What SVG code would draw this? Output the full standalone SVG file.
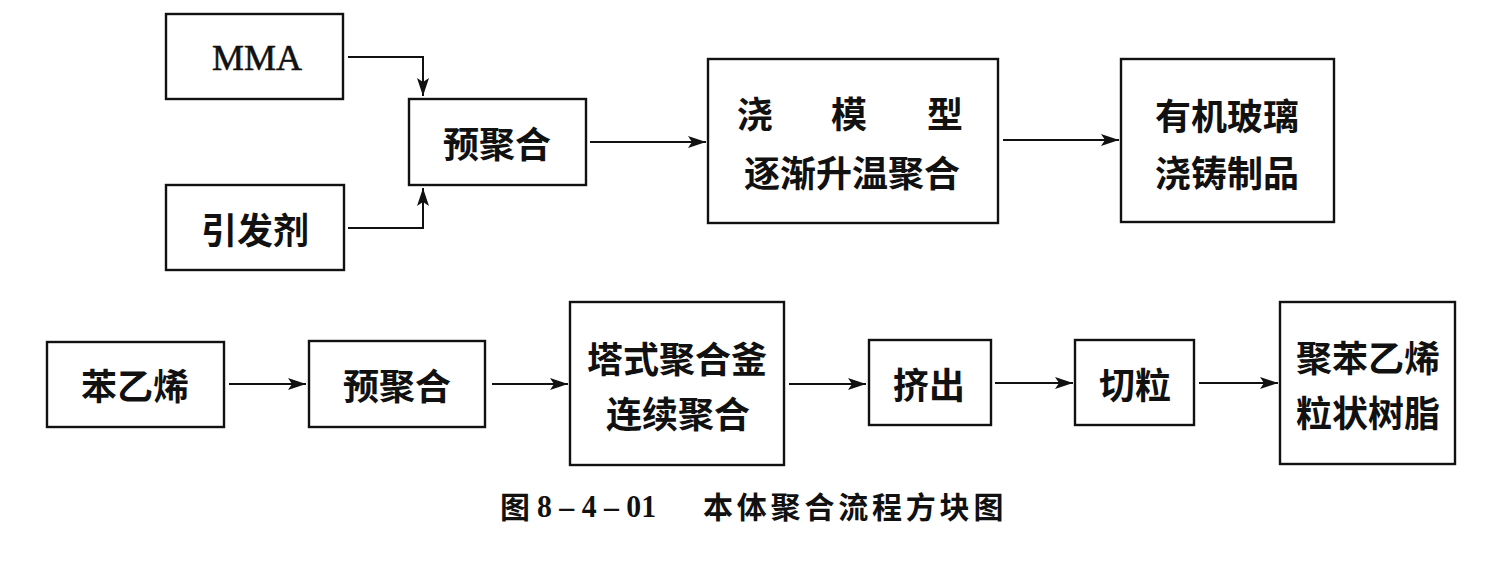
<svg xmlns="http://www.w3.org/2000/svg" width="1488" height="574" viewBox="0 0 1488 574">
<style>
.box{fill:#fff;stroke:#111;stroke-width:2.4}
.t{font-family:"Noto Sans CJK SC","Noto Sans",sans-serif;font-size:36px;font-weight:700;fill:#111;text-anchor:middle;dominant-baseline:central}
.lat{font-family:"Liberation Serif",serif;font-size:36px;fill:#111;text-anchor:middle;stroke:#111;stroke-width:0.6}
.c{fill:none;stroke:#111;stroke-width:2;marker-end:url(#ah)}
.cap{font-family:"Noto Sans CJK SC",sans-serif;font-size:30px;font-weight:700;fill:#111;dominant-baseline:central}
.capn{font-family:"Liberation Serif",serif;font-size:32px;font-weight:bold;fill:#111}
</style>
<defs>
<marker id="ah" markerUnits="userSpaceOnUse" markerWidth="19" markerHeight="13" viewBox="0 0 19 13" refX="18" refY="6.5" orient="auto">
<path d="M0,0.5 L18,6.5 L0,12.5 L4,6.5 z" fill="#111"/>
</marker>
</defs>
<rect width="1488" height="574" fill="#fff"/>

<g id="connectors">
<path class="c" d="M348,57 H423 V96"/>
<path class="c" d="M348,228 H423 V188"/>
<path class="c" d="M590,142 H706"/>
<path class="c" d="M1003,140 H1119"/>
<path class="c" d="M229,384 H306"/>
<path class="c" d="M492,384 H568"/>
<path class="c" d="M789,384 H866"/>
<path class="c" d="M995,383 H1073"/>
<path class="c" d="M1199,383 H1278"/>
</g>

<g id="mma">
<rect class="box" x="166" y="14" width="177" height="85"/>
<text class="lat" x="257" y="70">MMA</text>
</g>
<g id="initiator">
<rect class="box" x="166" y="185" width="178" height="85"/>
<text class="t" x="255" y="228">引发剂</text>
</g>
<g id="prepoly1">
<rect class="box" x="409" y="99" width="177" height="86"/>
<text class="t" x="497" y="142">预聚合</text>
</g>
<g id="casting">
<rect class="box" x="708" y="59" width="290" height="164"/>
<text class="t" x="755" y="112">浇</text>
<text class="t" x="849" y="112">模</text>
<text class="t" x="945" y="112">型</text>
<text class="t" x="852" y="171">逐渐升温聚合</text>
</g>
<g id="pmma">
<rect class="box" x="1121" y="59" width="213" height="163"/>
<text class="t" x="1227" y="114">有机玻璃</text>
<text class="t" x="1227" y="171">浇铸制品</text>
</g>

<g id="styrene">
<rect class="box" x="47" y="342" width="177" height="85"/>
<text class="t" x="135" y="384">苯乙烯</text>
</g>
<g id="prepoly2">
<rect class="box" x="309" y="341" width="176" height="86"/>
<text class="t" x="397" y="384">预聚合</text>
</g>
<g id="tower">
<rect class="box" x="570" y="302" width="214" height="163"/>
<text class="t" x="677" y="357">塔式聚合釜</text>
<text class="t" x="678" y="412">连续聚合</text>
</g>
<g id="extrude">
<rect class="box" x="869" y="340" width="122" height="85"/>
<text class="t" x="929" y="383">挤出</text>
</g>
<g id="pellet">
<rect class="box" x="1075" y="340" width="119" height="85"/>
<text class="t" x="1135" y="383">切粒</text>
</g>
<g id="ps">
<rect class="box" x="1280" y="302" width="175" height="162"/>
<text class="t" x="1368" y="356">聚苯乙烯</text>
<text class="t" x="1368" y="411">粒状树脂</text>
</g>

<g id="caption">
<text class="cap" x="500" y="505">图</text>
<text class="capn" x="537" y="517" textLength="119" lengthAdjust="spacingAndGlyphs">8 – 4 – 01</text>
<text class="cap" x="703" y="505" letter-spacing="3.8">本体聚合流程方块图</text>
</g>
</svg>
